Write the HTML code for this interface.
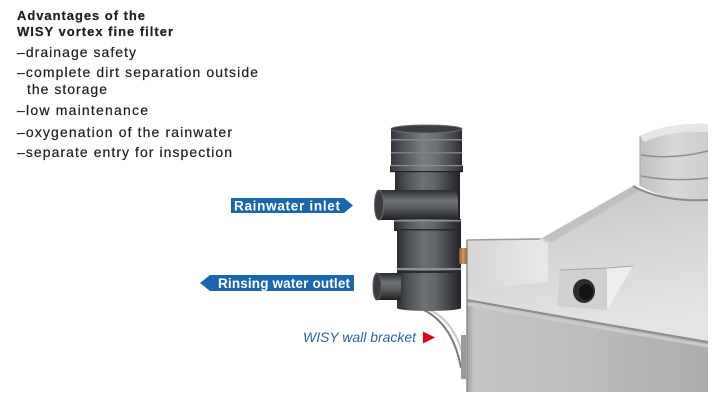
<!DOCTYPE html>
<html>
<head>
<meta charset="utf-8">
<style>
  html, body { margin: 0; padding: 0; background: #ffffff; }
  body { width: 718px; height: 400px; overflow: hidden; }
  svg { display: block; }
  .t { font-family: "Liberation Sans", Arial, sans-serif; fill: #1e1e1e; stroke: #1e1e1e; stroke-width: 0.2; }
</style>
</head>
<body>
<svg width="718" height="400" viewBox="0 0 718 400" xmlns="http://www.w3.org/2000/svg">
  <defs>
    <linearGradient id="gMetalH" x1="0" y1="0" x2="1" y2="0">
      <stop offset="0" stop-color="#2a2c2f"/>
      <stop offset="0.15" stop-color="#4a4d51"/>
      <stop offset="0.42" stop-color="#6e7176"/>
      <stop offset="0.6" stop-color="#62656a"/>
      <stop offset="0.85" stop-color="#3a3c40"/>
      <stop offset="1" stop-color="#222326"/>
    </linearGradient>
    <linearGradient id="gCap" x1="0" y1="0" x2="1" y2="0">
      <stop offset="0" stop-color="#34363a"/>
      <stop offset="0.2" stop-color="#55585d"/>
      <stop offset="0.45" stop-color="#7a7d82"/>
      <stop offset="0.65" stop-color="#6a6d72"/>
      <stop offset="0.9" stop-color="#404246"/>
      <stop offset="1" stop-color="#2a2b2e"/>
    </linearGradient>
    <linearGradient id="gPipeV" x1="0" y1="0" x2="0" y2="1">
      <stop offset="0" stop-color="#2a2c2f"/>
      <stop offset="0.35" stop-color="#6e7176"/>
      <stop offset="0.6" stop-color="#5a5d62"/>
      <stop offset="1" stop-color="#1f2022"/>
    </linearGradient>
    <linearGradient id="gTop" x1="0" y1="0" x2="0.25" y2="1">
      <stop offset="0" stop-color="#c2c2c2"/>
      <stop offset="0.5" stop-color="#d6d6d6"/>
      <stop offset="1" stop-color="#e4e4e4"/>
    </linearGradient>
    <linearGradient id="gSide" x1="0" y1="0" x2="1" y2="0">
      <stop offset="0" stop-color="#a0a0a0"/>
      <stop offset="0.03" stop-color="#c4c4c4"/>
      <stop offset="0.5" stop-color="#bcbcbc"/>
      <stop offset="1" stop-color="#adadad"/>
    </linearGradient>
    <linearGradient id="gLid" x1="0" y1="0" x2="1" y2="0">
      <stop offset="0" stop-color="#c0c0c0"/>
      <stop offset="0.5" stop-color="#d8d8d8"/>
      <stop offset="1" stop-color="#cdcdcd"/>
    </linearGradient>
    <linearGradient id="gBox" x1="0" y1="0" x2="1" y2="0">
      <stop offset="0" stop-color="#d6d6d6"/>
      <stop offset="1" stop-color="#e8e8e8"/>
    </linearGradient>
    <linearGradient id="gOrange" x1="0" y1="0" x2="1" y2="0">
      <stop offset="0" stop-color="#8a5a2c"/>
      <stop offset="0.5" stop-color="#d89a5a"/>
      <stop offset="1" stop-color="#9a6634"/>
    </linearGradient>
  </defs>

  <!-- Text block -->
  <text class="t" x="17" y="20" font-size="13" font-weight="bold" textLength="128" lengthAdjust="spacing">Advantages of the</text>
  <text class="t" x="17" y="36" font-size="13" font-weight="bold" textLength="156" lengthAdjust="spacing">WISY vortex fine filter</text>
  <text class="t" x="17" y="57" font-size="14" textLength="119" lengthAdjust="spacing">–drainage safety</text>
  <text class="t" x="17" y="77" font-size="14" textLength="241" lengthAdjust="spacing">–complete dirt separation outside</text>
  <text class="t" x="27" y="94" font-size="14" textLength="80" lengthAdjust="spacing">the storage</text>
  <text class="t" x="17" y="115" font-size="14" textLength="131" lengthAdjust="spacing">–low maintenance</text>
  <text class="t" x="17" y="137" font-size="14" textLength="215" lengthAdjust="spacing">–oxygenation of the rainwater</text>
  <text class="t" x="17" y="157" font-size="14" textLength="215" lengthAdjust="spacing">–separate entry for inspection</text>

  <!-- Tank: side -->
  <path d="M467,300 Q590,322 708,342 L708,392 L467,392 Z" fill="url(#gSide)"/>
  <!-- Tank: top surface -->
  <path d="M467,240 L542,238 L633,186 Q662,200 708,200 L708,342 Q590,322 467,300 Z" fill="url(#gTop)"/>
  <!-- slope shading -->
  <path d="M542,238 L633,186 L640,190 L552,242 Z" fill="#b8b8b8" opacity="0.6"/>
  <!-- rim -->
  <path d="M467,300 Q590,322 708,342" fill="none" stroke="#8c8c8c" stroke-width="2"/>
  <path d="M467,304 Q590,326 708,346" fill="none" stroke="#cacaca" stroke-width="3"/>
  <!-- left platform box -->
  <path d="M467,240 L540,239 L548,244 L548,282 L467,290 Z" fill="url(#gBox)"/>
  <path d="M467,240 L540,239" stroke="#9a9a9a" stroke-width="1.5" fill="none"/>
  <path d="M467,240 L467,392" stroke="#8a8a8a" stroke-width="1.5"/>

  <!-- Lid cylinder -->
  <path d="M640,136 Q668,122 708,124 L708,200 Q668,202 640,186 Z" fill="url(#gLid)"/>
  <path d="M640,136 Q668,122 708,124 L708,132 Q670,130 644,142 Z" fill="#e6e6e6"/>
  <path d="M641,155 Q672,160 708,151" fill="none" stroke="#8f8f8f" stroke-width="1.5"/>
  <path d="M641,176 Q672,182 708,178" fill="none" stroke="#8f8f8f" stroke-width="1.5"/>
  <path d="M633,186 Q662,202 708,200" fill="none" stroke="#8a8a8a" stroke-width="2"/>
  <path d="M640,136 L640,186" stroke="#a8a8a8" stroke-width="1"/>

  <!-- Inspection box on tank -->
  <path d="M560,270 L607,268 L607,310 L557,306 Z" fill="#d0d0d0"/>
  <path d="M607,268 L633,266 L607,310 Z" fill="#eeeeee"/>
  <path d="M560,270 L607,268 L633,266" fill="none" stroke="#a5a5a5" stroke-width="1"/>
  <ellipse cx="584" cy="291" rx="11" ry="12" fill="#2b2b2b"/>
  <ellipse cx="586" cy="292" rx="7" ry="8" fill="#141414"/>

  <!-- Wall bracket -->
  <path d="M414,306 Q452,318 461,368" fill="none" stroke="#7d7d7d" stroke-width="2"/>
  <path d="M419,306 Q457,316 465,366" fill="none" stroke="#c8c8c8" stroke-width="2"/>
  <rect x="461" y="335" width="5" height="44" fill="#9a9a9a"/>

  <!-- Filter: lower body -->
  <rect x="397" y="228" width="64" height="80" fill="url(#gMetalH)"/>
  <ellipse cx="429" cy="308" rx="32" ry="3" fill="url(#gMetalH)"/>
  <rect x="397" y="268" width="64" height="2" fill="#8b8e93"/>
  <rect x="397" y="271" width="64" height="2" fill="#2a2c2f"/>
  <!-- Outlet pipe -->
  <rect x="377" y="273" width="24" height="27" fill="url(#gPipeV)"/>
  <ellipse cx="377" cy="286.5" rx="4" ry="13.5" fill="#3a3c3f" stroke="#5c5f63" stroke-width="1"/>
  <!-- Upper body -->
  <rect x="395" y="170" width="65" height="52" fill="url(#gMetalH)"/>
  <!-- Cap -->
  <rect x="391" y="129" width="71" height="42" fill="url(#gCap)"/>
  <ellipse cx="426.5" cy="129" rx="35.5" ry="4" fill="#3a3c40" stroke="#6a6d71" stroke-width="1"/>
  <rect x="391" y="139" width="71" height="1.5" fill="#85888e"/>
  <rect x="391" y="152" width="71" height="1.5" fill="#7c7f84"/>
  <rect x="390" y="165" width="73" height="7" fill="url(#gCap)"/>
  <rect x="390" y="165" width="73" height="1.2" fill="#8a8d92"/>
  <rect x="390" y="171" width="73" height="1.2" fill="#1f2022"/>
  <!-- Inlet pipe / elbow -->
  <path d="M379,190 L450,190 Q458,190 458,200 L458,212 Q458,220 450,220 L379,220 Z" fill="url(#gPipeV)"/>
  <ellipse cx="379" cy="205" rx="4.5" ry="15" fill="#3b3d40" stroke="#66696d" stroke-width="1"/>
  <!-- Collar -->
  <rect x="394" y="219" width="67" height="12" fill="url(#gMetalH)"/>
  <rect x="394" y="220" width="67" height="1.5" fill="#8e9196"/>
  <rect x="394" y="229" width="67" height="1.5" fill="#26282a"/>
  <!-- Orange fitting -->
  <rect x="459" y="248" width="8" height="16" rx="2" fill="url(#gOrange)"/>

  <!-- Blue labels -->
  <path d="M231,198 L344,198 L353,205.5 L344,213 L231,213 Z" fill="#1a67b0"/>
  <text x="234" y="210.5" font-family="Liberation Sans, Arial, sans-serif" font-size="13.5" font-weight="bold" fill="#ffffff" textLength="106" lengthAdjust="spacing">Rainwater inlet</text>

  <path d="M200,283 L210,275 L354,275 L354,291 L210,291 Z" fill="#1a67b0"/>
  <text x="218" y="288" font-family="Liberation Sans, Arial, sans-serif" font-size="13.5" font-weight="bold" fill="#ffffff" textLength="132" lengthAdjust="spacing">Rinsing water outlet</text>

  <!-- Wall bracket label -->
  <text x="303" y="342" font-family="Liberation Sans, Arial, sans-serif" font-size="14" font-style="italic" fill="#2d63a6" textLength="113" lengthAdjust="spacing">WISY wall bracket</text>
  <path d="M423,331.5 L435,337.5 L423,343.5 Z" fill="#e3001b"/>
</svg>
</body>
</html>
